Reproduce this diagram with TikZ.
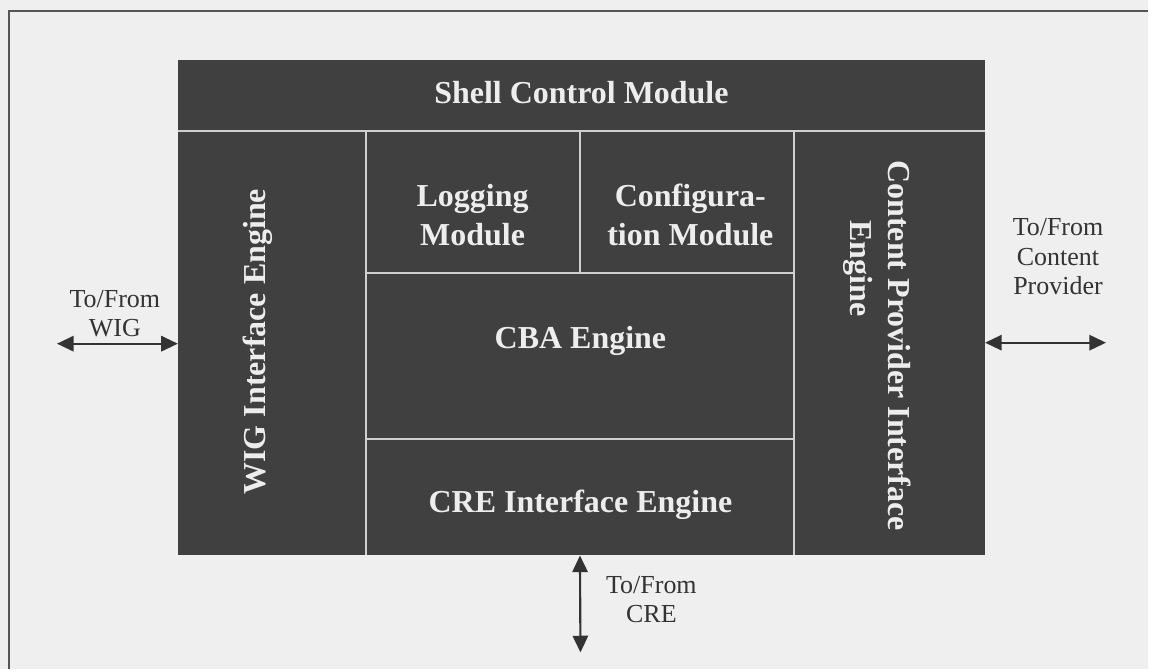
\documentclass[tikz,border=0pt]{standalone}
\usepackage{fontspec}
\setmainfont{Liberation Serif}
\usetikzlibrary{arrows.meta,fit}
\definecolor{paper}{HTML}{EFEFEF}
\definecolor{block}{HTML}{404040}
\definecolor{rule}{HTML}{CFCFCF}
\definecolor{ink}{HTML}{333333}
\definecolor{frameline}{HTML}{555555}
\definecolor{whitetext}{HTML}{EDEDED}
\begin{document}
\begin{tikzpicture}[x=0.75pt,y=-0.75pt,
  module/.style={fill=block,inner sep=0pt,outer sep=0pt},
  sep/.style={draw=rule,line width=1.5pt},
  title/.style={text=whitetext,font=\fontsize{24}{29}\selectfont\bfseries,align=center,inner sep=0pt},
  caption/.style={text=ink,font=\fontsize{19.5}{22}\selectfont,align=center,inner sep=0pt},
  io/.style={draw=ink,line width=1.6pt,{Triangle[length=12.5pt,width=11.5pt]}-{Triangle[length=12.5pt,width=11.5pt]}}]
% page and outer rule
\fill[paper] (0,0) rectangle (1149,670);
\draw[frameline,line width=1.6pt] (9,670) -- (9,11) -- (1149,11);

% module blocks
\node[module,fit={(178,60) (986,131)}] (shell) {};
\node[module,fit={(178,131) (366,556)}] (wig) {};
\node[module,fit={(366,131) (581,273)}] (log) {};
\node[module,fit={(581,131) (795,273)}] (conf) {};
\node[module,fit={(366,273) (795,439)}] (cba) {};
\node[module,fit={(366,439) (795,556)}] (cre) {};
\node[module,fit={(795,131) (986,556)}] (cp) {};

% separators between the blocks
\draw[sep] (shell.south west) -- (shell.south east);
\draw[sep] (wig.north east) -- (wig.south east);
\draw[sep] (cp.north west) -- (cp.south west);
\draw[sep] (log.north east) -- (log.south east);
\draw[sep] (log.south west) -- (conf.south east);
\draw[sep] (cba.south west) -- (cba.south east);

% block titles
\node[title] (shellT) at (582,93) {Shell Control Module};
\node[title] (logT) at (473,215) {Logging\\Module};
\node[title] (confT) at (691,215) {Configura-\\tion Module};
\node[title] (cbaT) at (581,341) {CBA Engine};
\node[title] (creT) at (581,505) {CRE Interface Engine};
\node[title,rotate=90] (wigT) at (258,342) {WIG Interface Engine};
\node[title,rotate=-90,align=left] (cpT) at (878,346) {Content Provider Interface\\\hspace*{45pt}Engine};

% external connections
\coordinate (wigEnd) at (57,344);
\coordinate (cpEnd) at (1107,343);
\coordinate (creEnd) at (581,653);
\draw[io] (wigEnd) -- (wigEnd -| wig.west);
\draw[io] (cpEnd -| cp.east) -- (cpEnd);
\draw[io] (cre.south) -- (creEnd);

\node[caption] (wigL) at (115,314) {To/From\\WIG};
\node[caption] (cpL) at (1059,257) {To/From\\Content\\Provider};
\node[caption] (creL) at (652,600) {To/From\\CRE};
\end{tikzpicture}
\end{document}
